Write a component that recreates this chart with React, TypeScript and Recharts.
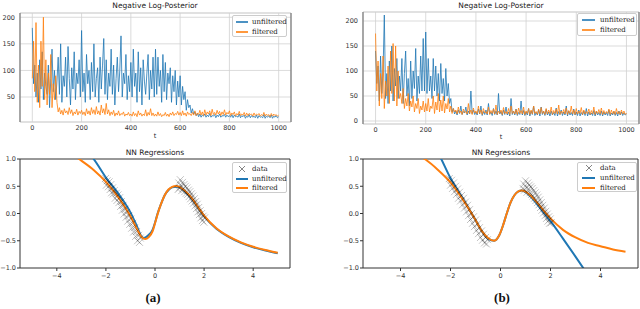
import React from 'react';
import { ComposedChart, LineChart, Line, Scatter, XAxis, YAxis, CartesianGrid, ReferenceLine } from 'recharts';

const BLUE = '#1f77b4';
const ORANGE = '#ff7f0e';
const T_STEP = 5;

const traceTDomain = [-50, 1050];
const traceTTicks = [0, 200, 400, 600, 800, 1000];
const traceAYTicks = [50, 100, 150, 200];
const traceBYTicks = [0, 50, 100, 150, 200];
const regXTicks = [-4, -2, 0, 2, 4];
const regYTicks = [-1, -0.5, 0, 0.5, 1];

// (a) negative log-posterior, one value every 5 steps (t = 0..1000)
const traceAUnfiltered = [
  180, 75, 110, 50, 95, 40, 120, 65, 135, 45, 95, 70, 55, 110, 30, 85, 140, 60, 100, 45,
  80, 125, 55, 150, 40, 90, 70, 125, 50, 145, 85, 35, 105, 65, 135, 45, 95, 75, 120, 50,
  175, 60, 95, 40, 130, 75, 100, 45, 115, 60, 150, 50, 85, 105, 40, 125, 65, 110, 160, 55,
  120, 45, 95, 70, 140, 55, 110, 35, 85, 125, 60, 100, 165, 50, 95, 75, 130, 45, 90, 60,
  115, 50, 140, 70, 95, 40, 135, 60, 105, 35, 120, 80, 55, 95, 130, 45, 100, 65, 125, 50,
  140, 55, 125, 70, 100, 40, 130, 60, 115, 45, 95, 75, 105, 40, 90, 60, 100, 35, 80, 50,
  90, 35, 70, 45, 60, 25, 45, 30, 35, 20, 28, 18, 22, 15, 19, 13, 18, 12, 16, 14,
  18, 12, 16, 13, 19, 12, 15, 14, 17, 11, 16, 13, 18, 12, 15, 14, 17, 12, 16, 13,
  15, 12, 17, 11, 16, 13, 14, 12, 18, 11, 15, 13, 16, 10, 14, 12, 17, 11, 15, 12,
  14, 11, 16, 10, 15, 12, 13, 11, 17, 10, 14, 12, 15, 11, 16, 10, 14, 12, 15, 11,
  13,
];
const traceAFiltered = [
  85, 155, 60, 190, 40, 110, 30, 155, 70, 200, 45, 120, 35, 95, 55, 130, 30, 75, 45, 90,
  40, 22, 30, 18, 25, 16, 28, 20, 24, 17, 30, 19, 26, 15, 22, 18, 27, 16, 23, 19,
  25, 17, 22, 15, 28, 18, 24, 16, 30, 19, 26, 17, 32, 18, 24, 16, 35, 20, 28, 17,
  38, 18, 26, 15, 22, 17, 25, 14, 20, 16, 24, 15, 19, 17, 22, 14, 18, 16, 21, 15,
  18, 14, 22, 15, 19, 13, 24, 16, 20, 14, 18, 15, 26, 14, 21, 16, 28, 15, 20, 14,
  18, 14, 22, 15, 19, 13, 17, 15, 21, 14, 18, 13, 20, 16, 22, 15, 19, 17, 23, 16,
  21, 15, 24, 16, 20, 14, 22, 17, 19, 15, 21, 16, 24, 15, 20, 17, 25, 16, 22, 15,
  26, 16, 22, 18, 24, 15, 27, 17, 21, 16, 25, 18, 23, 15, 22, 17, 26, 16, 21, 18,
  24, 15, 20, 17, 22, 14, 19, 16, 23, 15, 18, 16, 21, 14, 20, 15, 19, 17, 18, 14,
  20, 15, 18, 16, 19, 14, 17, 15, 21, 14, 18, 15, 17, 13, 19, 14, 18, 15, 17, 14,
  16,
];

// (b) negative log-posterior
const traceBUnfiltered = [
  140, 75, 110, 40, 130, 55, 100, 212, 45, 95, 35, 120, 60, 150, 40, 105, 70, 125, 45, 90,
  60, 125, 35, 95, 140, 50, 85, 30, 120, 45, 100, 65, 145, 40, 90, 55, 130, 60, 165, 60,
  178, 55, 125, 60, 90, 45, 125, 60, 110, 50, 95, 40, 115, 55, 85, 40, 105, 50, 75, 35,
  45, 18, 25, 14, 20, 12, 22, 15, 30, 13, 19, 16, 28, 12, 20, 14, 60, 15, 22, 13,
  18, 12, 24, 14, 30, 11, 19, 13, 22, 12, 35, 14, 18, 11, 25, 13, 20, 12, 55, 14,
  19, 11, 22, 13, 28, 12, 18, 10, 45, 13, 20, 12, 24, 11, 17, 13, 40, 12, 21, 11,
  18, 12, 25, 10, 20, 13, 30, 11, 17, 12, 22, 10, 28, 13, 19, 11, 23, 12, 18, 10,
  20, 12, 17, 11, 26, 10, 19, 13, 22, 11, 18, 12, 30, 10, 20, 12, 17, 11, 24, 12,
  18, 11, 22, 10, 17, 12, 20, 11, 25, 10, 18, 12, 16, 11, 21, 10, 19, 12, 17, 11,
  20, 10, 18, 12, 17, 11, 22, 10, 16, 12, 19, 11, 17, 10, 20, 12, 18, 11, 16, 12,
  14,
];
const traceBFiltered = [
  175, 60, 120, 30, 95, 45, 130, 25, 80, 50, 110, 35, 140, 55, 155, 40, 150, 30, 100, 45,
  55, 35, 65, 25, 45, 30, 55, 20, 40, 28, 50, 18, 35, 25, 45, 15, 30, 22, 40, 18,
  35, 20, 45, 18, 30, 25, 50, 15, 38, 22, 55, 18, 42, 20, 50, 16, 35, 24, 45, 18,
  30, 15, 25, 18, 22, 14, 28, 16, 20, 13, 24, 17, 19, 14, 35, 15, 22, 13, 26, 16,
  20, 14, 30, 15, 22, 13, 25, 16, 19, 14, 28, 13, 21, 15, 24, 14, 32, 13, 20, 15,
  22, 13, 27, 15, 19, 14, 25, 13, 30, 15, 20, 14, 23, 13, 26, 15, 21, 14, 28, 13,
  20, 15, 25, 13, 22, 14, 30, 15, 19, 13, 24, 14, 27, 15, 20, 13, 25, 14, 22, 15,
  28, 13, 21, 15, 24, 14, 32, 13, 20, 15, 23, 14, 26, 13, 21, 15, 30, 14, 22, 13,
  25, 14, 20, 15, 27, 13, 22, 14, 19, 15, 24, 13, 21, 14, 28, 13, 20, 15, 23, 14,
  26, 13, 21, 14, 19, 15, 24, 13, 22, 14, 20, 13, 25, 14, 19, 13, 22, 14, 20, 13,
  16,
];

// NN regressions: [x, y]
const regAData = [
  [-2.02, 0.64], [-1.98, 0.52], [-1.95, 0.6], [-1.9, 0.49], [-1.87, 0.58], [-1.83, 0.44], [-1.8, 0.53],
  [-1.77, 0.38], [-1.73, 0.47], [-1.7, 0.36], [-1.66, 0.42], [-1.62, 0.28], [-1.58, 0.37], [-1.55, 0.24],
  [-1.51, 0.34], [-1.47, 0.2], [-1.44, 0.29], [-1.4, 0.13], [-1.37, 0.22], [-1.33, 0.06], [-1.3, 0.15],
  [-1.26, -0.01], [-1.22, 0.08], [-1.18, -0.07], [-1.15, 0.02], [-1.11, -0.14], [-1.07, -0.04],
  [-1.03, -0.2], [-0.99, -0.1], [-0.95, -0.27], [-0.91, -0.18], [-0.87, -0.34], [-0.83, -0.26],
  [-0.79, -0.42], [-0.75, -0.33], [-0.71, -0.5], [-0.67, -0.4], [-0.63, -0.53], [-0.6, -0.45],
  [0.94, 0.44], [0.97, 0.56], [1.0, 0.47], [1.03, 0.62], [1.06, 0.51], [1.09, 0.42], [1.12, 0.57],
  [1.15, 0.46], [1.18, 0.53], [1.21, 0.4], [1.24, 0.5], [1.27, 0.37], [1.3, 0.47], [1.33, 0.35],
  [1.36, 0.43], [1.39, 0.31], [1.42, 0.4], [1.45, 0.27], [1.48, 0.36], [1.51, 0.23], [1.54, 0.32],
  [1.57, 0.19], [1.6, 0.27], [1.63, 0.14], [1.66, 0.22], [1.69, 0.09], [1.72, 0.17], [1.75, 0.03],
  [1.78, 0.11], [1.81, -0.02], [1.84, 0.05], [1.87, -0.08], [1.9, 0.0], [1.93, -0.13], [1.96, -0.05],
  [1.99, -0.16], [2.02, -0.08],
];
const regAUnfiltered = [
  [-3.0, 1.25], [-2.5, 1.0], [-2.0, 0.66], [-1.5, 0.37], [-1.0, 0.02], [-0.75, -0.22], [-0.55, -0.42],
  [-0.45, -0.45], [-0.3, -0.41], [-0.1, -0.3], [0.0, -0.17], [0.1, -0.01], [0.25, 0.18], [0.4, 0.34],
  [0.55, 0.43], [0.7, 0.48], [0.85, 0.49], [1.0, 0.48], [1.2, 0.41], [1.5, 0.27], [1.75, 0.11],
  [2.0, -0.05], [2.5, -0.28], [3.0, -0.43], [3.5, -0.54], [4.0, -0.62], [4.5, -0.68], [5.0, -0.73],
];
const regAFiltered = [
  [-3.5, 1.13], [-3.0, 0.97], [-2.5, 0.8], [-2.0, 0.58], [-1.5, 0.3], [-1.0, -0.05], [-0.75, -0.27],
  [-0.55, -0.43], [-0.4, -0.47], [-0.25, -0.43], [-0.1, -0.33], [0.0, -0.18], [0.1, -0.02],
  [0.25, 0.18], [0.4, 0.34], [0.55, 0.44], [0.7, 0.49], [0.85, 0.505], [1.0, 0.49], [1.2, 0.42],
  [1.5, 0.28], [1.75, 0.12], [2.0, -0.04], [2.5, -0.27], [3.0, -0.42], [3.5, -0.53], [4.0, -0.61],
  [4.5, -0.67], [5.0, -0.72],
];

const regBData = [
  [-2.05, 0.64], [-2.0, 0.52], [-1.96, 0.61], [-1.92, 0.46], [-1.88, 0.56], [-1.84, 0.4], [-1.8, 0.5],
  [-1.76, 0.35], [-1.72, 0.45], [-1.68, 0.28], [-1.64, 0.39], [-1.6, 0.23], [-1.56, 0.33], [-1.52, 0.16],
  [-1.48, 0.28], [-1.44, 0.1], [-1.4, 0.21], [-1.36, 0.03], [-1.32, 0.15], [-1.28, -0.04], [-1.24, 0.07],
  [-1.2, -0.11], [-1.16, 0.0], [-1.12, -0.18], [-1.08, -0.06], [-1.04, -0.24], [-1.0, -0.12],
  [-0.96, -0.31], [-0.92, -0.19], [-0.88, -0.37], [-0.84, -0.26], [-0.8, -0.44], [-0.76, -0.32],
  [-0.72, -0.49], [-0.68, -0.38], [-0.64, -0.54], [-0.6, -0.44], [-0.56, -0.56], [-0.52, -0.48],
  [0.9, 0.46], [0.93, 0.54], [0.96, 0.43], [1.0, 0.6], [1.03, 0.48], [1.06, 0.39], [1.09, 0.56],
  [1.12, 0.45], [1.15, 0.52], [1.18, 0.38], [1.21, 0.49], [1.24, 0.35], [1.27, 0.46], [1.3, 0.32],
  [1.33, 0.42], [1.36, 0.28], [1.39, 0.38], [1.42, 0.24], [1.45, 0.34], [1.48, 0.2], [1.51, 0.3],
  [1.54, 0.16], [1.57, 0.25], [1.6, 0.11], [1.63, 0.2], [1.66, 0.06], [1.69, 0.15], [1.72, 0.01],
  [1.75, 0.1], [1.78, -0.04], [1.81, 0.04], [1.84, -0.09], [1.87, -0.01], [1.9, -0.14], [1.93, -0.06],
  [1.96, -0.18], [1.99, -0.1], [2.03, -0.17],
];
const regBUnfiltered = [
  [-3.0, 1.55], [-2.37, 1.0], [-2.0, 0.65], [-1.5, 0.27], [-1.0, -0.12], [-0.75, -0.32], [-0.5, -0.46],
  [-0.25, -0.5], [-0.05, -0.4], [0.1, -0.22], [0.25, 0.0], [0.4, 0.2], [0.55, 0.33], [0.7, 0.4],
  [0.85, 0.42], [1.0, 0.39], [1.2, 0.31], [1.5, 0.15], [1.75, 0.0], [2.0, -0.14], [2.5, -0.46],
  [3.0, -0.79], [3.5, -1.13],
];
const regBFiltered = [
  [-3.5, 1.12], [-3.0, 0.99], [-2.5, 0.8], [-2.0, 0.57], [-1.5, 0.25], [-1.0, -0.12], [-0.75, -0.32],
  [-0.5, -0.45], [-0.25, -0.5], [-0.05, -0.4], [0.1, -0.22], [0.25, 0.0], [0.4, 0.2], [0.55, 0.33],
  [0.7, 0.4], [0.85, 0.42], [1.0, 0.4], [1.2, 0.33], [1.5, 0.18], [1.75, 0.04], [2.0, -0.09],
  [2.5, -0.3], [3.0, -0.44], [3.5, -0.54], [4.0, -0.6], [4.5, -0.66], [5.0, -0.7],
];

const tickStyle = { fontSize: 6.5, fill: '#333', fontFamily: 'DejaVu Sans' };
const toXY = (pts: number[][]) => pts.map(([x, y]) => ({ x, y }));
const minus = (s: string) => s.replace('-', '\u2212');

const Cross = (props: any) => {
  const { cx, cy } = props;
  const r = 3.5;
  return (
    <path
      d={`M${cx - r},${cy - r}L${cx + r},${cy + r}M${cx - r},${cy + r}L${cx + r},${cy - r}`}
      stroke="#000"
      strokeOpacity={0.3}
      strokeWidth={0.8}
      fill="none"
    />
  );
};

function TracePanel({ left, yWidth, right, top, xHeight, unf, fil, yDomain, yTicks }: any) {
  const data = unf.map((u: number, i: number) => ({ t: i * T_STEP, unfiltered: u, filtered: fil[i] }));
  return (
    <div style={{ position: 'absolute', left, top: 0 }}>
      <LineChart width={320} height={142} data={data} margin={{ top, right, bottom: 0, left: 0 }}>
        <CartesianGrid stroke="#d2d2d2" strokeWidth={0.8} />
        <XAxis type="number" dataKey="t" domain={traceTDomain} ticks={traceTTicks} interval={0}
          tickLine={false} axisLine={false} tickSize={3} tickMargin={0} height={xHeight} tick={tickStyle} />
        <YAxis type="number" domain={yDomain} ticks={yTicks} interval={0} tickLine={false} axisLine={false}
          tickSize={3} tickMargin={2} width={yWidth} tick={tickStyle} />
        <ReferenceLine y={yDomain[0]} stroke="#cfcfcf" strokeWidth={0.8} />
        <ReferenceLine y={yDomain[1]} stroke="#cfcfcf" strokeWidth={0.8} />
        <ReferenceLine x={traceTDomain[0]} stroke="#808080" strokeWidth={1.3} />
        <ReferenceLine x={traceTDomain[1]} stroke="#808080" strokeWidth={1.3} />
        <Line type="linear" dataKey="unfiltered" stroke={BLUE} strokeOpacity={0.8} strokeWidth={1}
          dot={false} activeDot={false} isAnimationActive={false} />
        <Line type="linear" dataKey="filtered" stroke={ORANGE} strokeOpacity={0.8} strokeWidth={1}
          dot={false} activeDot={false} isAnimationActive={false} />
      </LineChart>
    </div>
  );
}

function RegPanel({ left, yWidth, right, points, unf, fil }: any) {
  return (
    <div style={{ position: 'absolute', left, top: 140 }}>
      <ComposedChart width={320} height={145} margin={{ top: 19, right, bottom: 0, left: 0 }}>
        <XAxis type="number" dataKey="x" domain={[-5.5, 5.5]} ticks={regXTicks} interval={0} allowDataOverflow
          axisLine={{ stroke: '#333' }} tickLine={{ stroke: '#333' }} tickSize={3} tickMargin={2} height={17}
          tick={tickStyle} tickFormatter={(v: number) => minus(String(v))} />
        <YAxis type="number" dataKey="y" domain={[-1, 1]} ticks={regYTicks} interval={0} allowDataOverflow
          axisLine={{ stroke: '#333' }} tickLine={{ stroke: '#333' }} tickSize={3} tickMargin={1} width={yWidth}
          tick={tickStyle} tickFormatter={(v: number) => minus(v.toFixed(1))} />
        <ReferenceLine y={1} stroke="#333" />
        <ReferenceLine x={5.5} stroke="#333" />
        <Scatter data={toXY(points)} shape={Cross} isAnimationActive={false} />
        <Line data={toXY(unf)} type="monotone" dataKey="y" stroke={BLUE} strokeWidth={2} dot={false}
          activeDot={false} isAnimationActive={false} />
        <Line data={toXY(fil)} type="monotone" dataKey="y" stroke={ORANGE} strokeWidth={2} dot={false}
          activeDot={false} isAnimationActive={false} />
      </ComposedChart>
    </div>
  );
}

function LegendBox({ left, top, width, height, rowTop, rowGap, lineX, lineW, textX, items, lineH }: any) {
  return (
    <div style={{
      position: 'absolute', left, top, width, height, boxSizing: 'border-box',
      border: '0.8px solid #ccc', borderRadius: 2, background: 'rgba(255,255,255,0.85)',
    }}>
      {items.map((it: any, i: number) => {
        const cy = rowTop + i * rowGap;
        return (
          <React.Fragment key={it.label}>
            {it.kind === 'cross' ? (
              <svg style={{ position: 'absolute', left: lineX + lineW / 2 - 4, top: cy - 4 }} width={8} height={8}>
                <path d="M1,1L7,7M1,7L7,1" stroke="#666" strokeWidth={0.8} fill="none" />
              </svg>
            ) : (
              <div style={{
                position: 'absolute', left: lineX, top: cy - lineH / 2, width: lineW, height: lineH,
                background: it.color, opacity: it.alpha ?? 1,
              }} />
            )}
            <div style={{
              position: 'absolute', left: textX, top: cy - 5, height: 10, lineHeight: '10px',
              fontFamily: 'DejaVu Serif', fontSize: 7, color: '#222', whiteSpace: 'nowrap',
            }}>{it.label}</div>
          </React.Fragment>
        );
      })}
    </div>
  );
}

const textStyle = (left: number, cy: number, size: number, extra: any = {}) => ({
  position: 'absolute' as const, left: left - 100, width: 200, top: cy - size, height: size * 2,
  lineHeight: `${size * 2}px`, textAlign: 'center' as const, fontFamily: 'DejaVu Sans',
  fontSize: size, color: '#222', whiteSpace: 'nowrap' as const, ...extra,
});

export default function App() {
  const traceItems = [
    { label: 'unfiltered', color: BLUE, alpha: 0.8 },
    { label: 'filtered', color: ORANGE, alpha: 0.8 },
  ];
  const regItems = [
    { label: 'data', kind: 'cross' },
    { label: 'unfiltered', color: BLUE },
    { label: 'filtered', color: ORANGE },
  ];
  return (
    <div style={{ position: 'absolute', left: 0, top: 0, width: 640, height: 309, background: '#fff', overflow: 'hidden' }}>
      <TracePanel left={0} yWidth={20} right={29} top={13} xHeight={20}
        unf={traceAUnfiltered} fil={traceAFiltered} yDomain={[3, 208]} yTicks={traceAYTicks} />
      <TracePanel left={320} yWidth={43} right={1} top={12} xHeight={18}
        unf={traceBUnfiltered} fil={traceBFiltered} yDomain={[-6, 218]} yTicks={traceBYTicks} />
      <RegPanel left={0} yWidth={20} right={30} points={regAData} unf={regAUnfiltered} fil={regAFiltered} />
      <RegPanel left={320} yWidth={43} right={2} points={regBData} unf={regBUnfiltered} fil={regBFiltered} />

      <div style={textStyle(155, 5, 7.5)}>Negative Log-Posterior</div>
      <div style={textStyle(501, 5, 7.5)}>Negative Log-Posterior</div>
      <div style={textStyle(155, 152, 7.5)}>NN Regressions</div>
      <div style={textStyle(501, 152, 7.5)}>NN Regressions</div>
      <div style={textStyle(155, 136, 6.5)}>t</div>
      <div style={textStyle(501, 137, 6.5)}>t</div>

      <LegendBox left={232} top={15} width={55} height={22} rowTop={6} rowGap={10} lineX={3} lineW={12}
        textX={19} lineH={1.2} items={traceItems} />
      <LegendBox left={577} top={13} width={60} height={23} rowTop={6} rowGap={10} lineX={4} lineW={13}
        textX={22} lineH={1.2} items={traceItems} />
      <LegendBox left={232} top={162} width={55} height={31} rowTop={6} rowGap={9.5} lineX={3} lineW={12}
        textX={19} lineH={2} items={regItems} />
      <LegendBox left={577} top={162} width={60} height={30} rowTop={5} rowGap={10} lineX={4} lineW={13}
        textX={22} lineH={2} items={regItems} />

      <div style={textStyle(153, 298, 13, { fontFamily: 'Liberation Serif', fontWeight: 'bold', color: '#111' })}>(a)</div>
      <div style={textStyle(502, 298, 13, { fontFamily: 'Liberation Serif', fontWeight: 'bold', color: '#111' })}>(b)</div>
    </div>
  );
}
